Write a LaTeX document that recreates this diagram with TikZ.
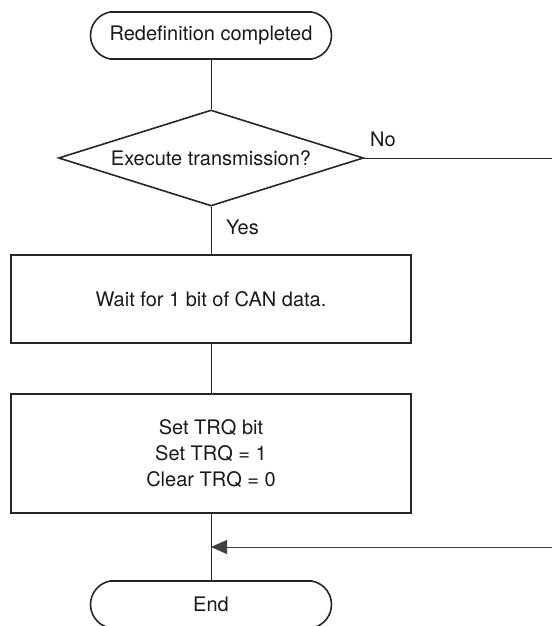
\documentclass[tikz,border=0pt]{standalone}
\usepackage{fontspec}
\setmainfont{TeX Gyre Heros}
\usetikzlibrary{shapes.geometric,shapes.misc,arrows.meta}
\begin{document}
\begin{tikzpicture}[x=1pt, y=-1pt,
	every node/.style={font=\fontsize{20}{26}\selectfont, text=black!90},
	term/.style={draw=black!85, line width=1.6pt, rounded rectangle, rounded rectangle arc length=160, minimum width=241pt, minimum height=47pt, inner sep=0pt},
	decision/.style={draw=black!85, line width=1.6pt, diamond, aspect=3.2, minimum width=305pt, minimum height=96pt, inner sep=0pt},
	procbox/.style={draw=black!85, line width=2.2pt, rectangle, minimum width=400pt, inner sep=0pt},
	flow/.style={draw=black!85, line width=0.9pt}]
	\useasboundingbox (0,0) rectangle (552,626);
	% the steps, top to bottom
	\node[term] (start) at (211,35.5) {Redefinition completed};
	\node[decision] (exec) at (211,158) {Execute transmission?};
	\node[procbox, minimum height=88pt] (wait) at (211,299) {Wait for 1 bit of CAN data.};
	\node[procbox, minimum height=119pt, align=center] (settrq) at (211,453.5) {Set TRQ bit\\Set TRQ = 1\\Clear TRQ = 0};
	\node[term] (end) at (211,604.5) {End};
	% branch labels
	\node[right, inner sep=0pt] (yes) at (226,227) {Yes};
	\node[right, inner sep=0pt] (no) at (370,139) {No};
	% loose ends at the right edge
	\coordinate (noend) at (552,158);
	\coordinate (back) at (552,547);
	\coordinate (merge) at (211,547);
	% connectors
	\draw[flow] (start.south) -- (exec.north);
	\draw[flow] (exec.south) -- (wait.north);
	\draw[flow] (wait.south) -- (settrq.north);
	\draw[flow] (settrq.south) -- (end.north);
	\draw[flow] (exec.east) -- (noend);
	\draw[flow, draw=black!75, -{Triangle[length=16pt, width=14pt]}] (back) -- (merge);
\end{tikzpicture}
\end{document}
